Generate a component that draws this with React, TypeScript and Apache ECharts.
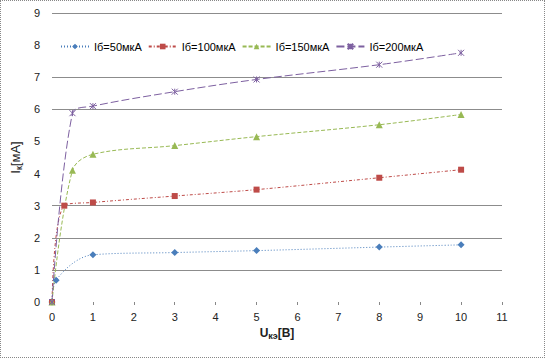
import React, { useEffect, useRef } from "react";
import * as echarts from "echarts";

const seriesNames = ["Iб=50мкА", "Iб=100мкА", "Iб=150мкА", "Iб=200мкА"];
const x50 = [0, 0.1, 1, 3, 5, 8, 10];
const y50 = [0, 0.68, 1.47, 1.54, 1.6, 1.71, 1.78];
const x100 = [0, 0.3, 1, 3, 5, 8, 10];
const y100 = [0, 3.0, 3.1, 3.3, 3.5, 3.87, 4.12];
const x150 = [0, 0.5, 1, 3, 5, 8, 10];
const y150 = [0, 4.1, 4.6, 4.87, 5.15, 5.52, 5.84];
const x200 = [0, 0.5, 1, 3, 5, 8, 10];
const y200 = [0, 5.88, 6.1, 6.55, 6.93, 7.39, 7.76];
const xTicks = [0, 1, 2, 3, 4, 5, 6, 7, 8, 9, 10, 11];
const yTicks = [0, 1, 2, 3, 4, 5, 6, 7, 8, 9];
const visibleGrid = [1, 2, 3, 6, 7, 9];

const zip = (xs: number[], ys: number[]) => xs.map((x, i) => [x, ys[i]]);

const colors = ["#4a7ebb", "#be4b48", "#98b954", "#7d60a0"];
const FONT = "Liberation Sans";

export default function App() {
  const ref = useRef<HTMLDivElement>(null);
  useEffect(() => {
    if (!ref.current) return;
    const chart = echarts.init(ref.current, null, { renderer: "svg" });
    const starPath = "path://M0,0L10,10M10,0L0,10M5,0L5,10";
    const mk = (
      i: number,
      data: number[][],
      symbol: string,
      symbolSize: number,
      dash: number[]
    ) => ({
      name: seriesNames[i],
      type: "line",
      data,
      smooth: 0.35,
      symbol,
      symbolSize,
      lineStyle: { color: colors[i], width: 1, type: dash },
      itemStyle:
        symbol === starPath
          ? { color: colors[i], borderColor: colors[i], borderWidth: 1 }
          : { color: colors[i] },
      emphasis: { disabled: true },
    });
    chart.setOption({
      animation: false,
      textStyle: { fontFamily: FONT },
      grid: { left: 51, right: 42, top: 12, bottom: 55, containLabel: false },
      legend: {
        left: 54,
        top: 35,
        itemWidth: 28,
        itemHeight: 7,
        itemGap: 6,
        textStyle: { fontSize: 11, color: "#000", fontFamily: FONT },
        data: seriesNames,
      },
      xAxis: {
        type: "value",
        min: xTicks[0],
        max: xTicks[xTicks.length - 1],
        interval: 1,
        axisLine: { show: false },
        axisTick: { show: true, length: 3, lineStyle: { color: "#888" } },
        axisLabel: { fontSize: 11, color: "#222", margin: 9 },
        splitLine: { show: false },
        name: "{a|U}{b|кэ}{a|[В]}",
        nameLocation: "middle",
        nameGap: 17,
        nameTextStyle: {
          rich: {
            a: { fontSize: 12, fontWeight: "bold", color: "#222", fontFamily: FONT },
            b: { fontSize: 9, fontWeight: "bold", color: "#222", fontFamily: FONT, padding: [6, 0, 0, 0] },
          },
        },
      },
      yAxis: {
        type: "value",
        min: yTicks[0],
        max: yTicks[yTicks.length - 1],
        interval: 1,
        axisLine: { show: false },
        axisTick: { show: false },
        axisLabel: { fontSize: 11, color: "#222", margin: 12 },
        splitLine: {
          show: true,
          lineStyle: {
            color: yTicks.map((t) => (visibleGrid.includes(t) ? "#8c8c8c" : "rgba(0,0,0,0)")),
            width: 1,
          },
        },
        name: "{a|I}{b|к}{a|[мА]}",
        nameLocation: "middle",
        nameGap: 23,
        nameTextStyle: {
          rich: {
            a: { fontSize: 13, color: "#222", fontFamily: FONT },
            b: { fontSize: 9, color: "#222", fontFamily: FONT, padding: [6, 0, 0, 0] },
          },
        },
      },
      series: [
        mk(0, zip(x50, y50), "diamond", 7, [1, 2]),
        mk(1, zip(x100, y100), "rect", 6, [3, 2, 1, 2]),
        mk(2, zip(x150, y150), "triangle", 7, [4, 2]),
        mk(3, zip(x200, y200), starPath, 6, [8, 3]),
      ],
    });
    return () => chart.dispose();
  }, []);
  return (
    <div
      style={{
        position: "fixed",
        left: 0,
        top: 0,
        width: 545,
        height: 358,
        boxSizing: "border-box",
        border: "1px dotted #888",
        background: "#fff",
      }}
    >
      <div ref={ref} style={{ width: 543, height: 356 }} />
    </div>
  );
}
